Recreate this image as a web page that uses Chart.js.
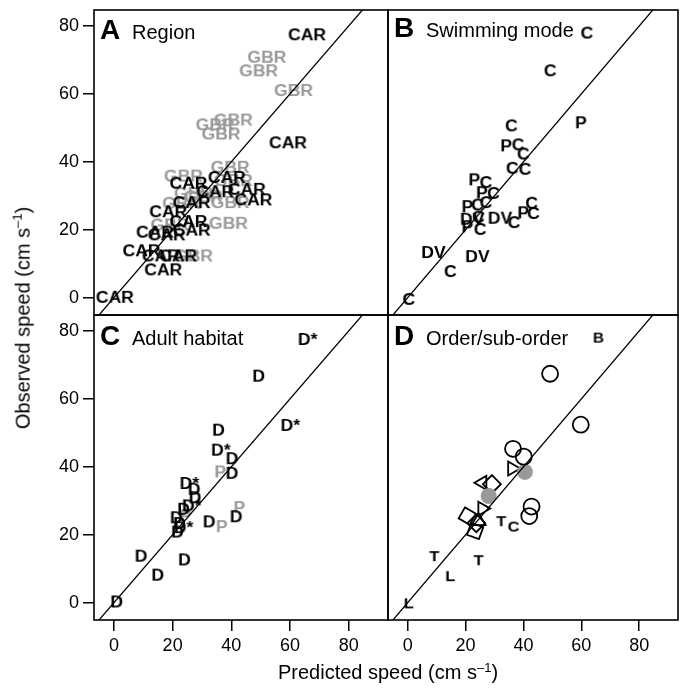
<!DOCTYPE html>
<html lang="en">
<head>
<meta charset="UTF-8">
<title>Observed vs predicted swimming speed</title>
<script src="https://cdn.jsdelivr.net/npm/chart.js"></script>
<style>
    body {
        margin: 0;
        background: #fff;
        font-family: "Liberation Sans", Arial, sans-serif;
    }
    #wrap {
        position: relative;
        width: 686px;
        height: 689px;
    }
    canvas {
        position: absolute;
    }
    .axis-title {
        position: absolute;
        font-size: 20px;
        color: #000;
        white-space: nowrap;
        transform: translate(-50%, -50%);
    }
    .axis-title sup {
        font-size: 13px;
    }
    #yTitle {
        transform: translate(-50%, -50%) rotate(-90deg);
    }
</style>
</head>
<body>
<div id="wrap">
    <canvas id="panelA" width="390" height="316" style="left:0;top:0"></canvas>
    <canvas id="panelB" width="294" height="316" style="left:386px;top:0"></canvas>
    <canvas id="panelC" width="390" height="346" style="left:0;top:314px"></canvas>
    <canvas id="panelD" width="294" height="346" style="left:386px;top:314px"></canvas>
    <div class="axis-title" id="xTitle" style="left:388px;top:672px">Predicted speed (cm s<sup>–1</sup>)</div>
    <div class="axis-title" id="yTitle" style="left:22px;top:318px">Observed speed (cm s<sup>–1</sup>)</div>
</div>

<script>
    // axis ranges, shared by all four panels
    const X_MIN = -6.8, X_MAX = 93.4;
    const Y_MIN = -5.1, Y_MAX = 84.7;
    const tickValues = [0, 20, 40, 60, 80];
    const unityLine = [-10, 100];   // y = x

    // A: region  [predicted, observed]
    const regionCAR = [
        [65.8, 77.4], [59.3, 45.6], [25.4, 33.7], [38.5, 35.4], [45.3, 31.9],
        [47.5, 28.8], [34.5, 31.2], [26.5, 28.0], [18.5, 25.3], [25.4, 22.4],
        [26.5, 19.9], [14.0, 19.3], [18.0, 18.5], [9.4, 13.8], [16.0, 12.3],
        [21.9, 12.3], [16.8, 8.2], [0.3, 0.1]
    ];
    const regionGBR = [
        [52.1, 70.8], [49.3, 66.8], [61.2, 61.0], [40.7, 52.3], [34.5, 50.9],
        [36.5, 48.2], [39.6, 38.4], [23.7, 35.8], [40.7, 34.5], [27.1, 30.7],
        [30.5, 29.7], [39.6, 28.0], [23.1, 27.8], [39.0, 21.9], [19.1, 21.4],
        [27.1, 12.3]
    ];

    // B: swimming mode
    const swimC = [
        [61.9, 77.9], [49.2, 66.8], [35.8, 50.6], [38.1, 45.0], [39.9, 42.3],
        [36.1, 38.1], [40.5, 37.8], [27.0, 33.9], [29.6, 30.7], [27.0, 28.0],
        [42.8, 27.8], [43.4, 24.8], [36.7, 22.1], [24.1, 27.3], [24.4, 23.7],
        [25.0, 20.1], [14.7, 7.7], [0.35, -0.5]
    ];
    const swimP = [
        [59.8, 51.5], [34.0, 44.7], [23.0, 34.7], [25.6, 30.9], [39.9, 25.0],
        [20.6, 26.8], [20.6, 20.9]
    ];
    const swimDV = [
        [31.9, 23.4], [22.3, 23.1], [8.9, 13.3], [24.1, 12.1]
    ];

    // C: adult habitat
    const habitatD = [
        [49.3, 66.7], [35.6, 50.8], [40.2, 42.4], [40.2, 38.1], [27.3, 33.4],
        [27.6, 30.9], [23.7, 27.5], [21.2, 25.0], [22.3, 23.3], [32.4, 23.8],
        [41.6, 25.3], [21.6, 20.8], [9.2, 13.7], [24.0, 12.6], [14.9, 8.1],
        [0.9, 0.2]
    ];
    const habitatDstar = [
        [66.0, 77.5], [60.1, 52.2], [36.4, 44.9], [25.7, 35.1], [26.5, 28.5],
        [23.7, 22.1]
    ];
    const habitatP = [
        [36.2, 38.5], [24.3, 25.6], [36.7, 22.4], [42.7, 28.0]
    ];

    // D: order / sub-order
    const orderCircle = [
        [49.2, 67.4], [59.8, 52.4], [36.4, 45.3], [40.1, 43.0], [42.8, 28.3],
        [42.0, 25.5]
    ];
    const orderFilled = [[40.5, 38.5], [28.0, 31.4]];
    const orderTriangle = [[36.1, 39.5], [25.8, 35.3], [25.8, 27.7], [24.5, 24.0]];
    const triangleTurn = [-30, -90, -30, 0];
    const orderSquare = [[20.6, 25.5], [23.3, 21.1], [23.7, 23.4], [29.1, 34.9]];
    const squareTurn = [30, 20, 45, 45];
    const orderB = [[65.9, 78.2]];
    const orderT = [[32.3, 24.0], [9.2, 13.7], [24.5, 12.5]];
    const orderC = [[36.6, 22.4]];
    const orderL = [[14.7, 7.8], [0.35, -0.2]];

    const FONT = '"Liberation Sans", Arial, sans-serif';
    const GREY = '#999999';

    const pts = arr => arr.map(([x, y]) => ({ x, y }));

    // text drawn into a small canvas and used as the point style
    function textMarker(text, color, size) {
        const c = document.createElement('canvas');
        let ctx = c.getContext('2d');
        const font = 'bold ' + size + 'px ' + FONT;
        ctx.font = font;
        const stretch = 1.1;
        const w = Math.ceil(ctx.measureText(text).width * stretch) + 4;
        const h = Math.ceil(size * 1.3);
        c.width = w;
        c.height = h;
        ctx = c.getContext('2d');
        ctx.font = font;
        ctx.fillStyle = color;
        ctx.textAlign = 'center';
        ctx.textBaseline = 'alphabetic';
        ctx.translate(w / 2, h / 2);
        ctx.scale(stretch, 1);
        ctx.fillText(text, 0, size * 0.36);
        return c;
    }

    function textSet(data, text, color, size) {
        return {
            data: pts(data),
            pointStyle: textMarker(text, color, size || 16),
            pointRadius: 5
        };
    }

    function lineSet() {
        return {
            type: 'line',
            data: unityLine.map(v => ({ x: v, y: v })),
            borderColor: '#000',
            borderWidth: 1.3,
            pointRadius: 0
        };
    }

    const framePlugin = {
        id: 'frame',
        afterDraw(chart) {
            const { ctx, chartArea: a } = chart;
            ctx.save();
            ctx.strokeStyle = '#000';
            ctx.lineWidth = 1.6;
            ctx.strokeRect(a.left, a.top, a.right - a.left, a.bottom - a.top);
            ctx.restore();
        }
    };

    const panelTitle = {
        id: 'panelTitle',
        afterDraw(chart, args, opts) {
            const { ctx, chartArea: a } = chart;
            ctx.save();
            ctx.fillStyle = '#000';
            ctx.textBaseline = 'alphabetic';
            ctx.font = 'bold 28px ' + FONT;
            ctx.fillText(opts.letter, a.left + 6, a.top + opts.base);
            ctx.font = '20px ' + FONT;
            ctx.fillText(opts.text, a.left + 38, a.top + opts.base);
            ctx.restore();
        }
    };

    // fixed axis sizes, no extra room for overhanging end labels
    function fixBox(s, size) {
        if (s.isHorizontal()) s.height = size; else s.width = size;
        s.paddingTop = s.paddingBottom = s.paddingLeft = s.paddingRight = 0;
    }

    function makePanel(id, datasets, o) {
        const grid = { drawOnChartArea: false, drawTicks: true, tickLength: 11, color: '#000', lineWidth: 1.5 };
        const ticks = { color: '#000', font: { size: 18, family: FONT }, padding: 4, maxRotation: 0 };
        return new Chart(document.getElementById(id), {
            type: 'scatter',
            data: { datasets: [lineSet()].concat(datasets) },
            options: {
                responsive: false,
                animation: false,
                layout: { padding: o.padding, autoPadding: false },
                plugins: {
                    legend: { display: false },
                    tooltip: { enabled: false },
                    panelTitle: o.title
                },
                scales: {
                    x: {
                        type: 'linear', min: X_MIN, max: X_MAX, display: o.showX,
                        afterBuildTicks: s => { s.ticks = tickValues.map(v => ({ value: v })); },
                        afterFit: s => fixBox(s, o.showX ? 40 : 0),
                        border: { display: false },
                        grid: grid, ticks: ticks
                    },
                    y: {
                        type: 'linear', min: Y_MIN, max: Y_MAX, display: o.showY,
                        afterBuildTicks: s => { s.ticks = tickValues.map(v => ({ value: v })); },
                        afterFit: s => fixBox(s, o.showY ? 94 : 0),
                        border: { display: false },
                        grid: grid, ticks: ticks
                    }
                }
            },
            plugins: [framePlugin, panelTitle]
        });
    }

    makePanel('panelA', [
        textSet(regionCAR, 'CAR', '#000'),
        textSet(regionGBR, 'GBR', GREY)
    ], {
        showX: false, showY: true,
        padding: { top: 10, right: 2, bottom: 1, left: 0 },
        title: { letter: 'A', text: 'Region', base: 29 }
    });

    makePanel('panelB', [
        textSet(swimC, 'C', '#000'),
        textSet(swimP, 'P', '#000'),
        textSet(swimDV, 'DV', '#000')
    ], {
        showX: false, showY: false,
        padding: { top: 10, right: 2, bottom: 1, left: 2 },
        title: { letter: 'B', text: 'Swimming mode', base: 27 }
    });

    makePanel('panelC', [
        textSet(habitatD, 'D', '#000'),
        textSet(habitatDstar, 'D*', '#000'),
        textSet(habitatP, 'P', GREY)
    ], {
        showX: true, showY: true,
        padding: { top: 1, right: 2, bottom: 0, left: 0 },
        title: { letter: 'C', text: 'Adult habitat', base: 30 }
    });

    makePanel('panelD', [
        textSet(orderB, 'B', '#000', 14),
        textSet(orderT, 'T', '#000', 15),
        textSet(orderC, 'C', '#000', 15),
        textSet(orderL, 'L', '#000', 15),
        {
            data: pts(orderCircle), pointStyle: 'circle', pointRadius: 8,
            borderColor: '#000', borderWidth: 1.8, backgroundColor: 'rgba(0,0,0,0)'
        },
        {
            data: pts(orderFilled), pointStyle: 'circle', pointRadius: 8,
            borderWidth: 0, backgroundColor: GREY
        },
        {
            data: pts(orderTriangle), pointStyle: 'triangle', pointRadius: 8,
            rotation: triangleTurn,
            borderColor: '#000', borderWidth: 1.8, backgroundColor: 'rgba(0,0,0,0)'
        },
        {
            data: pts(orderSquare), pointStyle: 'rect', pointRadius: 9,
            rotation: squareTurn,
            borderColor: '#000', borderWidth: 1.8, backgroundColor: 'rgba(0,0,0,0)'
        }
    ], {
        showX: true, showY: false,
        padding: { top: 1, right: 2, bottom: 0, left: 2 },
        title: { letter: 'D', text: 'Order/sub-order', base: 30 }
    });
</script>
</body>
</html>
